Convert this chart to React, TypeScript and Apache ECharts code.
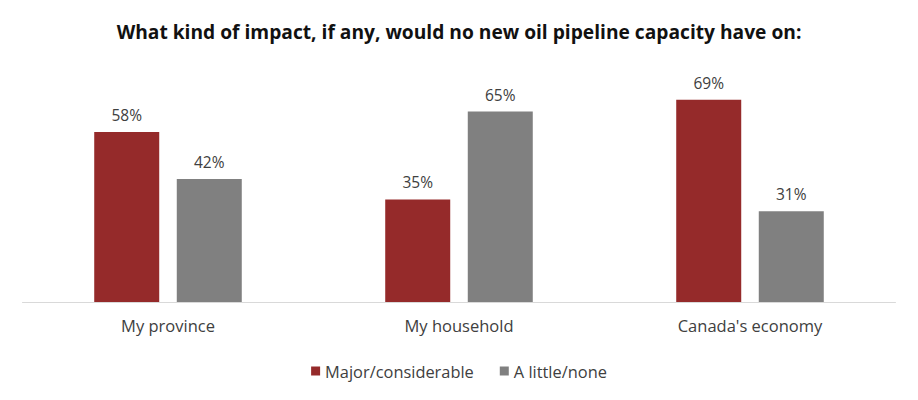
import React, { useEffect, useRef } from "react";
import * as echarts from "echarts";

const categories = ["My province", "My household", "Canada's economy"];
const majorValues = [58, 35, 69];
const littleValues = [42, 65, 31];
const seriesNames = ["Major/considerable", "A little/none"];
const titleText = "What kind of impact, if any, would no new oil pipeline capacity have on:";

export default function App() {
  const ref = useRef<HTMLDivElement>(null);
  useEffect(() => {
    document.body.style.margin = "0";
    const chart = echarts.init(ref.current!, undefined, { renderer: "svg" });
    const font = "'Open Sans', 'Noto Sans', sans-serif";
    const label = {
      show: true,
      position: "top",
      distance: 9,
      formatter: "{c}%",
      fontFamily: font,
      fontSize: 15.5,
      color: "#404040",
    };
    chart.setOption({
      animation: false,
      backgroundColor: "#ffffff",
      title: {
        text: titleText,
        left: "center",
        top: 17,
        textStyle: { fontFamily: font, fontSize: 19.2, fontWeight: "bold", color: "#111111" },
      },
      legend: {
        data: seriesNames,
        left: "center",
        top: 358,
        itemWidth: 9,
        itemHeight: 9,
        itemGap: 26,
        icon: "rect",
        textStyle: { fontFamily: font, fontSize: 16.4, color: "#404040" },
      },
      grid: { left: 22.5, right: 22.5, top: 67.6, bottom: 98, containLabel: false },
      xAxis: {
        type: "category",
        data: categories,
        axisLine: { show: true, lineStyle: { color: "#d9d9d9", width: 1 } },
        axisTick: { show: false },
        axisLabel: { fontFamily: font, fontSize: 16.5, color: "#404040", margin: 15 },
      },
      yAxis: {
        type: "value",
        min: 0,
        max: 80,
        show: false,
        splitLine: { show: false },
      },
      series: [
        {
          name: seriesNames[0],
          type: "bar",
          data: majorValues,
          barWidth: 65,
          barGap: "27%",
          itemStyle: { color: "#952a2a" },
          label,
        },
        {
          name: seriesNames[1],
          type: "bar",
          data: littleValues,
          barWidth: 65,
          barGap: "27%",
          itemStyle: { color: "#808080" },
          label,
        },
      ],
    });
    return () => chart.dispose();
  }, []);
  return <div ref={ref} style={{ width: 918, height: 400 }} />;
}
